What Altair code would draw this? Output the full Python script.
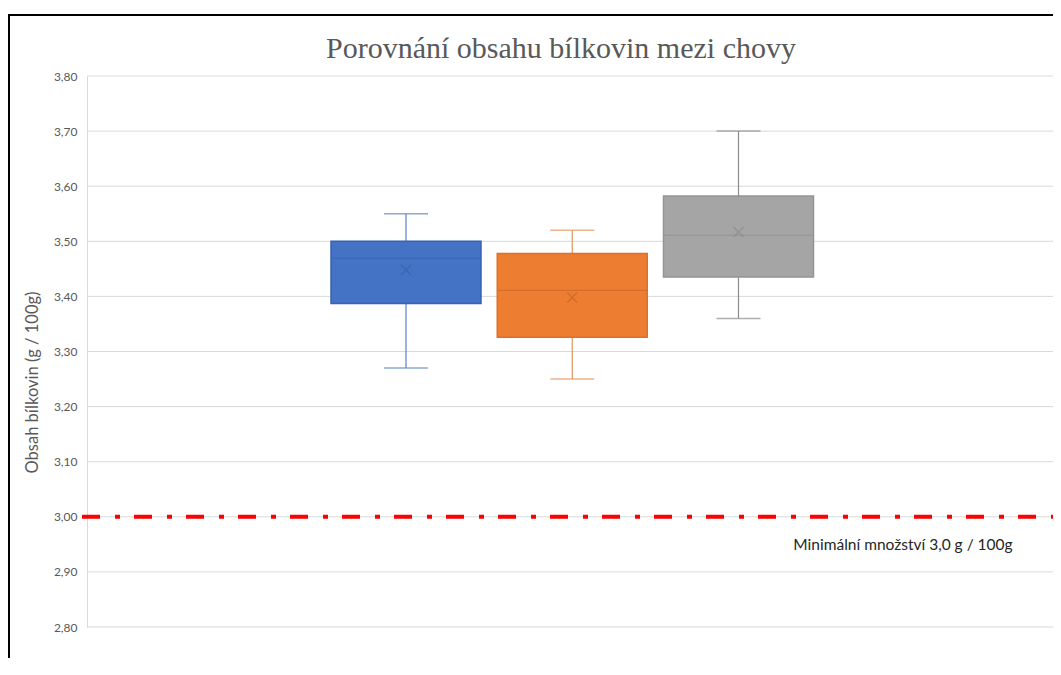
import altair as alt
import pandas as pd

# ---- data ----
series = ["Chov 1", "Chov 2", "Chov 3"]
whisker_low = [3.27, 3.25, 3.36]
q1 = [3.387, 3.326, 3.435]
median = [3.469, 3.411, 3.511]
q3 = [3.500, 3.478, 3.582]
whisker_high = [3.55, 3.52, 3.70]
mean = [3.448, 3.398, 3.517]
threshold = [3.0]
threshold_label = ["Minimální množství 3,0 g / 100g"]
title_text = "Porovnání obsahu bílkovin mezi chovy"
y_ticks = [2.8, 2.9, 3.0, 3.1, 3.2, 3.3, 3.4, 3.5, 3.6, 3.7, 3.8]

# ---- styles ----
fill_colors = ["#4472C4", "#ED7D31", "#A5A5A5"]
border_colors = ["#3862B4", "#E07028", "#949494"]
whisker_colors = ["#5B80C8", "#E2935E", "#8C8C8C"]
median_colors = ["#3A64B2", "#C96A2C", "#8E8E8E"]
mean_colors = ["#3A60A8", "#C4682C", "#8A8A8A"]

W, H = 966, 551
GRID = "#D9D9D9"
TXT = "#595959"

df = pd.DataFrame({
    "series": series, "lo": whisker_low, "q1": q1, "med": median,
    "q3": q3, "hi": whisker_high, "mean": mean,
})
thr = pd.DataFrame({"y": threshold, "label": threshold_label})
ticks_df = pd.DataFrame({"v": y_ticks})

xenc = alt.X("series:N", sort=series, axis=None,
             scale=alt.Scale(type="band", paddingInner=0.0977, paddingOuter=0,
                             range=[244, 726.5]))
yscale = alt.Scale(domain=[2.8, 3.8], nice=False, zero=False)
yaxis = alt.Axis(values=y_ticks, labelExpr="replace(format(datum.value, '.2f'), '.', ',')",
                 grid=False, domain=True, domainColor=GRID,
                 ticks=False, labelPadding=10, labelFont="Lato", labelFontSize=12,
                 labelColor=TXT, title="Obsah bílkovin (g / 100g)", titleFont="Lato",
                 titleFontSize=16.5, titleFontWeight="normal", titleColor=TXT,
                 titleAngle=270, titleX=-55, titleY=306, titleAlign="center",
                 titleBaseline="middle")

base = alt.Chart(df).encode(x=xenc)

def sc(rng):
    return alt.Scale(domain=series, range=rng)

grid_layer = alt.Chart(ticks_df).mark_rule(color=GRID, strokeWidth=1).encode(
    y=alt.Y("v:Q", scale=yscale, axis=yaxis), x=alt.value(0), x2=alt.value(W))

whisk_low = base.mark_rule(strokeWidth=1.2).encode(
    y=alt.Y("lo:Q", scale=yscale), y2="q1:Q",
    color=alt.Color("series:N", scale=sc(whisker_colors), legend=None))
whisk_hi = base.mark_rule(strokeWidth=1.2).encode(
    y=alt.Y("q3:Q", scale=yscale), y2="hi:Q",
    color=alt.Color("series:N", scale=sc(whisker_colors), legend=None))
cap_lo = base.mark_tick(size=44, thickness=1.5).encode(
    y=alt.Y("lo:Q", scale=yscale),
    color=alt.Color("series:N", scale=sc(whisker_colors), legend=None))
cap_hi = base.mark_tick(size=44, thickness=1.5).encode(
    y=alt.Y("hi:Q", scale=yscale),
    color=alt.Color("series:N", scale=sc(whisker_colors), legend=None))
box = base.mark_bar(strokeWidth=1.5).encode(
    y=alt.Y("q1:Q", scale=yscale), y2="q3:Q",
    fill=alt.Fill("series:N", scale=sc(fill_colors), legend=None),
    stroke=alt.Stroke("series:N", scale=sc(border_colors), legend=None))
med = base.mark_tick(size=150, thickness=1.2).encode(
    y=alt.Y("med:Q", scale=yscale),
    color=alt.Color("series:N", scale=sc(median_colors), legend=None))
mean_pt = base.mark_point(shape="M-1,-1L1,1M-1,1L1,-1", size=100, filled=False,
                          strokeWidth=1.4).encode(
    y=alt.Y("mean:Q", scale=yscale),
    color=alt.Color("series:N", scale=sc(mean_colors), legend=None))

thr_line = alt.Chart(thr).mark_rule(color="#FF0000", strokeWidth=4,
                                    strokeDash=[18, 15, 5, 14]).encode(
    y=alt.Y("y:Q", scale=yscale), x=alt.value(-5), x2=alt.value(W))
thr_text = alt.Chart(thr).mark_text(font="Lato", fontSize=15.5, color="#262626",
                                    align="center", baseline="middle", dy=28).encode(
    y=alt.Y("y:Q", scale=yscale), x=alt.value(816), text="label:N")

title_mark = alt.Chart(thr).mark_text(font="Liberation Serif", fontSize=30, color=TXT,
                                      align="center", baseline="alphabetic").encode(
    x=alt.value(474), y=alt.value(-18), text=alt.value(title_text))

frame_top = alt.Chart(thr).mark_rule(color="#000000", strokeWidth=2).encode(
    x=alt.value(-78), x2=alt.value(W + 10), y=alt.value(-61))
frame_left = alt.Chart(thr).mark_rule(color="#000000", strokeWidth=2).encode(
    x=alt.value(-78), y=alt.value(-62), y2=alt.value(H + 40))

chart = alt.layer(
    grid_layer, thr_line, whisk_low, whisk_hi, cap_lo, cap_hi, box, med, mean_pt,
    thr_text, title_mark, frame_top, frame_left
).resolve_scale(color="independent", fill="independent", stroke="independent").properties(
    width=W, height=H,
    autosize=alt.AutoSizeParams(type="none"),
    padding={"left": 79, "top": 68, "right": 0, "bottom": 31},
    background="white",
).configure_view(stroke=None)

chart.save("out.html", embed_options={"renderer": "svg", "actions": False})
